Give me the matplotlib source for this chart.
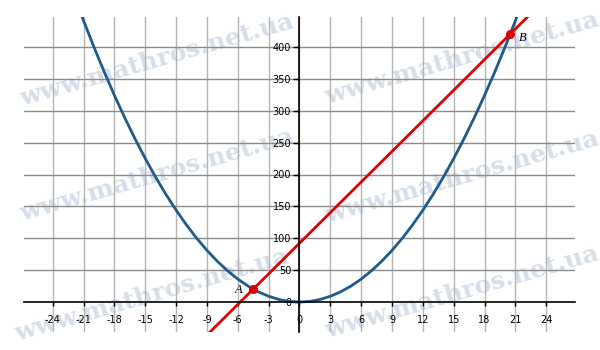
import matplotlib
matplotlib.use("Agg")
import matplotlib.pyplot as plt

# Parabola points
parab_x = [-22, -21, -20, -19, -18, -17, -16, -15, -14, -13, -12, -11, -10, -9, -8, -7, -6, -5,
           -4, -3, -2, -1, 0, 1, 2, 3, 4, 5, 6, 7, 8, 9, 10, 11, 12, 13, 14, 15, 16, 17, 18, 19,
           20, 21, 22]
parab_y = [484, 441, 400, 361, 324, 289, 256, 225, 196, 169, 144, 121, 100, 81, 64, 49, 36, 25,
           16, 9, 4, 1, 0, 1, 4, 9, 16, 25, 36, 49, 64, 81, 100, 121, 144, 169, 196, 225, 256,
           289, 324, 361, 400, 441, 484]

# Straight line end points
line_x = [-10, 23]
line_y = [-67.75, 460.25]

# Intersection points
pts_x = [-4.5, 20.5]
pts_y = [20.25, 420.25]
pts_labels = ["A", "B"]

xticks = list(range(-24, 25, 3))
yticks = list(range(0, 401, 50))

W, H = 600, 350
fig = plt.figure(figsize=(6, 3.5), dpi=100)
ax = fig.add_axes([24 / W, (H - 332) / H, (575 - 24) / W, (332 - 17) / H])
ax.set_xlim(-26.8, 26.8)
ax.set_ylim(-47, 447)

for s in ["top", "right"]:
    ax.spines[s].set_visible(False)
ax.spines["left"].set_position(("data", 0))
ax.spines["bottom"].set_position(("data", 0))
ax.spines["left"].set_linewidth(1.2)
ax.spines["bottom"].set_linewidth(1.2)
ax.spines["left"].set_zorder(4)
ax.spines["bottom"].set_zorder(4)

ax.set_xticks(xticks)
ax.set_yticks(yticks)
ax.set_xticklabels([str(v) for v in xticks])
ax.set_yticklabels([str(v) for v in yticks])
ax.tick_params(axis="x", direction="out", length=3, width=1, labelsize=7, pad=6, colors="black")
ax.tick_params(axis="y", direction="out", length=4, width=1, labelsize=7, pad=2, colors="black")

# grid
for v in xticks:
    ax.axvline(v, color="#b4b4b4", lw=1.0, zorder=1)
for v in yticks[1:]:
    ax.axhline(v, color="#8c8c8c", lw=1.0, zorder=1)

# watermark
wm_pos = [(157, 60), (462, 58), (157, 175), (462, 177), (152, 295), (462, 292)]
for (px, py) in wm_pos:
    ax.text(px / W, 1 - py / H, "www.mathros.net.ua", fontsize=18, family="DejaVu Serif",
            fontweight="bold", color="#d5dfea", rotation=16, transform=fig.transFigure,
            clip_on=False, ha="center", va="center", zorder=0.5)

ax.plot(parab_x, parab_y, color="#1f5a8c", lw=2, zorder=3, solid_capstyle="butt")
ax.plot(line_x, line_y, color="#e00000", lw=2, zorder=3)
ax.scatter(pts_x, pts_y, s=30, color="#e00000", zorder=5)
ax.text(pts_x[0] - 1.4, pts_y[0] - 1, pts_labels[0], fontsize=9, family="Liberation Serif",
        style="italic", ha="center", va="center")
ax.text(pts_x[1] + 1.2, pts_y[1] - 6, pts_labels[1], fontsize=9, family="Liberation Serif",
        style="italic", ha="center", va="center")

fig.savefig("out.png", dpi=100)
